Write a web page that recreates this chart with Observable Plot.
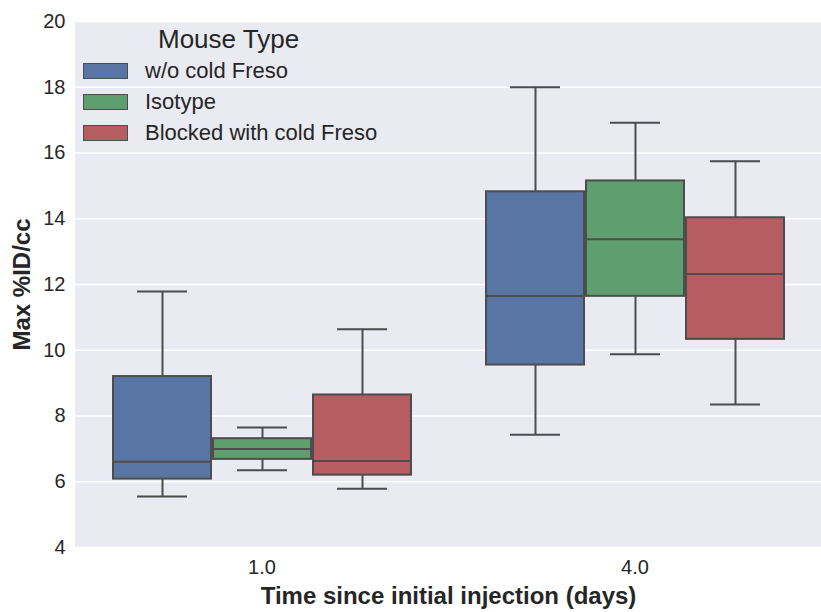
<!DOCTYPE html>
<html>
<head>
<meta charset="utf-8">
<script src="https://cdn.jsdelivr.net/npm/d3@7"></script>
<script src="https://cdn.jsdelivr.net/npm/@observablehq/plot@0.6"></script>
<style>
  html, body { margin: 0; padding: 0; background: white; }
  #wrap { position: relative; width: 821px; height: 612px; font-family: "Liberation Sans", Arial, sans-serif; color: #262626; }
  #wrap svg g[aria-label$="axis label"] text { font-weight: bold; font-size: 24px; }
  #legend { position: absolute; left: 83px; top: 24px; }
  #legend .title { font-size: 26px; margin-left: 75px; line-height: 30px; height: 32px; }
  #legend .row { display: flex; align-items: center; height: 30.7px; }
  #legend .sw { width: 43px; height: 14px; border: 1px solid #4d4d4d; margin-right: 17px; }
  #legend .lab { font-size: 22px; }
</style>
</head>
<body>
<div id="wrap"></div>
<script>
const days = ["1.0", "4.0"];
const types = ["w/o cold Freso", "Isotype", "Blocked with cold Freso"];
const colors = ["#5875a4", "#5f9e6e", "#b55d60"];
const yTicks = [4, 6, 8, 10, 12, 14, 16, 18, 20];

// order: day 1.0 (three types), then day 4.0 (three types)
const lowWhisker  = [5.55, 6.35, 5.79, 7.43, 9.88, 8.35];
const q1          = [6.08, 6.68, 6.20, 9.55, 11.64, 10.33];
const median      = [6.61, 7.00, 6.63, 11.65, 13.38, 12.32];
const q3          = [9.20, 7.31, 8.64, 14.82, 15.15, 14.03];
const highWhisker = [11.79, 7.65, 10.64, 18.00, 16.92, 15.75];

const rows = [];
days.forEach((d, i) => types.forEach((t, j) => {
  const k = i * types.length + j;
  rows.push({day: d, type: t, lo: lowWhisker[k], q1: q1[k], med: median[k], q3: q3[k], hi: highWhisker[k]});
}));

const lineColor = "#4d4d4d";
const common = {fx: "day", x: "type"};

const chart = Plot.plot({
  width: 821,
  height: 612,
  marginLeft: 75,
  marginRight: 0,
  marginTop: 21,
  marginBottom: 65,
  style: {fontFamily: "'Liberation Sans', Arial, sans-serif", fontSize: "20px", color: "#262626", background: "white"},
  fx: {domain: days, padding: 0},
  x: {domain: types, paddingInner: 0, paddingOuter: 0.365, axis: null},
  y: {domain: [4, 20]},
  color: {domain: types, range: colors},
  marks: [
    Plot.frame({fill: "#EAEAF2", stroke: "#EAEAF2", strokeWidth: 1}),
    Plot.gridY(yTicks, {stroke: "white", strokeOpacity: 1, strokeWidth: 1.4}),
    Plot.axisY(yTicks, {tickSize: 0, tickPadding: 10, label: "Max %ID/cc", labelAnchor: "center", labelArrow: "none", labelOffset: 63}),
    Plot.axisFx({anchor: "bottom", tickSize: 0, tickPadding: 12, label: "Time since initial injection (days)", labelAnchor: "center", labelArrow: "none", labelOffset: 56}),
    Plot.ruleX(rows, {...common, y1: "lo", y2: "q1", stroke: lineColor, strokeWidth: 2}),
    Plot.ruleX(rows, {...common, y1: "q3", y2: "hi", stroke: lineColor, strokeWidth: 2}),
    Plot.tickY(rows, {...common, y: "lo", stroke: lineColor, strokeWidth: 2, insetLeft: 25, insetRight: 25}),
    Plot.tickY(rows, {...common, y: "hi", stroke: lineColor, strokeWidth: 2, insetLeft: 25, insetRight: 25}),
    Plot.barY(rows, {...common, y1: "q1", y2: "q3", fill: "type", stroke: lineColor, strokeWidth: 2, insetLeft: 1, insetRight: 1}),
    Plot.tickY(rows, {...common, y: "med", stroke: lineColor, strokeWidth: 2, insetLeft: 1, insetRight: 1})
  ]
});

const wrap = document.getElementById("wrap");
wrap.appendChild(chart);

const legend = document.createElement("div");
legend.id = "legend";
const title = document.createElement("div");
title.className = "title";
title.textContent = "Mouse Type";
legend.appendChild(title);
types.forEach((t, i) => {
  const row = document.createElement("div");
  row.className = "row";
  const sw = document.createElement("div");
  sw.className = "sw";
  sw.style.background = colors[i];
  const lab = document.createElement("div");
  lab.className = "lab";
  lab.textContent = t;
  row.appendChild(sw);
  row.appendChild(lab);
  legend.appendChild(row);
});
wrap.appendChild(legend);
</script>
</body>
</html>
